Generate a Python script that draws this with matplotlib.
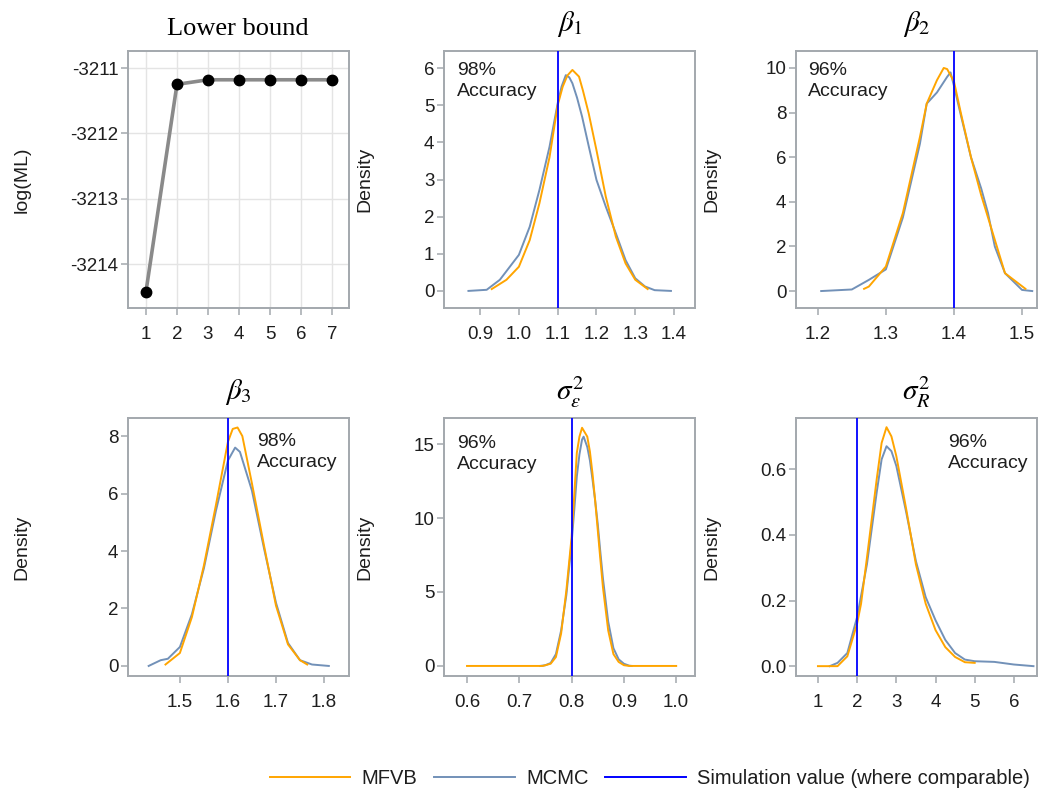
import numpy as np
import matplotlib
matplotlib.use('Agg')
import matplotlib.pyplot as plt
from matplotlib.lines import Line2D

plt.rcParams['font.family'] = ['Liberation Sans', 'DejaVu Sans']
plt.rcParams['mathtext.fontset'] = 'stix'
plt.rcParams['axes.unicode_minus'] = False

# ── data ─────────────────────────────────────────────────────────────────────
iters = [1, 2, 3, 4, 5, 6, 7]
lower_bound = [-3214.42, -3211.25, -3211.18, -3211.18, -3211.18, -3211.18, -3211.18]

b1_mcmc_x = [0.87, 0.917, 0.951, 1.0, 1.028, 1.053, 1.079, 1.1, 1.11, 1.121, 1.13, 1.138,
             1.15, 1.163, 1.18, 1.2, 1.224, 1.25, 1.275, 1.3, 1.325, 1.35, 1.392]
b1_mcmc_y = [0.0, 0.03, 0.3, 0.97, 1.73, 2.72, 3.88, 5.05, 5.5, 5.81, 5.75, 5.59,
             5.2, 4.69, 3.9, 2.99, 2.27, 1.55, 0.83, 0.34, 0.12, 0.02, 0.0]
b1_mfvb_x = [0.93, 0.968, 1.0, 1.028, 1.053, 1.079, 1.1, 1.113, 1.125, 1.138, 1.155, 1.165,
             1.18, 1.2, 1.224, 1.25, 1.275, 1.3, 1.332]
b1_mfvb_y = [0.05, 0.3, 0.65, 1.37, 2.36, 3.6, 5.0, 5.5, 5.8, 5.95, 5.77, 5.4,
             4.78, 3.79, 2.54, 1.46, 0.74, 0.3, 0.05]

b2_mcmc_x = [1.205, 1.25, 1.275, 1.3, 1.325, 1.35, 1.36, 1.375, 1.39, 1.395, 1.4, 1.41,
             1.425, 1.44, 1.45, 1.46, 1.475, 1.5, 1.515]
b2_mcmc_y = [0.0, 0.07, 0.5, 0.97, 3.3, 6.6, 8.4, 8.9, 9.6, 9.8, 9.2, 7.9,
             6.0, 4.6, 3.5, 2.0, 0.8, 0.05, 0.0]
b2_mfvb_x = [1.268, 1.275, 1.3, 1.325, 1.35, 1.36, 1.375, 1.385, 1.39, 1.4, 1.41, 1.425,
             1.44, 1.45, 1.475, 1.505]
b2_mfvb_y = [0.1, 0.2, 1.1, 3.5, 6.9, 8.4, 9.45, 10.0, 9.95, 9.4, 8.0, 6.0,
             4.3, 3.3, 0.8, 0.1]

b3_mcmc_x = [1.435, 1.46, 1.475, 1.5, 1.525, 1.55, 1.575, 1.6, 1.615, 1.625, 1.65, 1.675,
             1.7, 1.725, 1.75, 1.775, 1.81]
b3_mcmc_y = [0.0, 0.2, 0.25, 0.66, 1.8, 3.4, 5.4, 7.15, 7.6, 7.45, 6.1, 4.1,
             2.2, 0.8, 0.2, 0.05, 0.0]
b3_mfvb_x = [1.47, 1.5, 1.525, 1.55, 1.575, 1.6, 1.61, 1.62, 1.63, 1.65, 1.675, 1.7,
             1.725, 1.75, 1.765]
b3_mfvb_y = [0.05, 0.45, 1.7, 3.5, 5.6, 7.8, 8.25, 8.3, 8.0, 6.35, 4.2, 2.1,
             0.75, 0.2, 0.05]

se_mcmc_x = [0.74, 0.75, 0.76, 0.77, 0.78, 0.79, 0.8, 0.805, 0.81, 0.815, 0.82, 0.823,
             0.83, 0.835, 0.84, 0.845, 0.85, 0.855, 0.86, 0.87, 0.88, 0.89, 0.9, 0.91, 0.915]
se_mcmc_y = [0.0, 0.05, 0.2, 0.8, 2.4, 4.8, 8.3, 10.5, 12.8, 14.3, 15.3, 15.5,
             14.8, 13.9, 12.6, 11.2, 9.6, 7.7, 5.9, 3.0, 1.2, 0.45, 0.15, 0.02, 0.0]
se_mfvb_x = [0.6, 0.745, 0.76, 0.77, 0.78, 0.79, 0.8, 0.805, 0.81, 0.815, 0.82, 0.825,
             0.83, 0.835, 0.84, 0.845, 0.85, 0.855, 0.86, 0.87, 0.88, 0.89, 0.9, 0.91, 1.0]
se_mfvb_y = [0.0, 0.0, 0.15, 0.6, 2.2, 5.1, 8.7, 11.5, 14.4, 15.5, 16.1, 15.8,
             15.5, 14.5, 13.0, 11.2, 9.2, 7.2, 5.3, 2.4, 0.8, 0.27, 0.05, 0.0, 0.0]

sr_mcmc_x = [1.3, 1.5, 1.75, 2.0, 2.25, 2.5, 2.625, 2.75, 2.875, 3.0, 3.25, 3.5, 3.75,
             4.0, 4.25, 4.5, 4.75, 5.0, 5.5, 6.0, 6.5]
sr_mcmc_y = [0.0, 0.01, 0.04, 0.15, 0.31, 0.53, 0.63, 0.67, 0.655, 0.61, 0.47, 0.32, 0.21,
             0.14, 0.08, 0.04, 0.02, 0.015, 0.013, 0.005, 0.0]
sr_mfvb_x = [1.0, 1.5, 1.75, 2.0, 2.1, 2.25, 2.5, 2.625, 2.75, 2.875, 3.0, 3.25, 3.5,
             3.75, 4.0, 4.25, 4.5, 4.75, 5.0]
sr_mfvb_y = [0.0, 0.0, 0.03, 0.13, 0.19, 0.33, 0.57, 0.68, 0.728, 0.70, 0.64, 0.48, 0.31,
             0.19, 0.11, 0.058, 0.028, 0.012, 0.01]

sim_values = [1.1, 1.4, 1.6, 0.8, 2.0]
accuracy = ['98%', '96%', '98%', '96%', '96%']

# ── styling ──────────────────────────────────────────────────────────────────
C_MFVB = '#FFA500'
C_MCMC = '#7291b8'
C_SIM = '#0000ff'
SPINE = '#a3a8ad'
TXT = '#1e1e1e'

W, H = 1039, 793
fig = plt.figure(figsize=(W / 100, H / 100), dpi=100)


def box(x0, x1, y0, y1):
    return [x0 / W, 1 - y1 / H, (x1 - x0) / W, (y1 - y0) / H]


def style(ax):
    for s in ax.spines.values():
        s.set_color(SPINE)
        s.set_linewidth(1.4)
    ax.tick_params(axis='both', colors=SPINE, labelcolor=TXT, labelsize=13.5,
                   length=5, width=1.1)
    ax.tick_params(axis='y', pad=2)
    ax.tick_params(axis='x', pad=8)


cols = [(128, 349), (444, 695), (796, 1037)]
rows = [(51, 308), (418, 676)]

# ── lower bound panel ────────────────────────────────────────────────────────
ax = fig.add_axes(box(*cols[0], *rows[0]))
style(ax)
ax.grid(color='#e4e4e4', linewidth=1)
ax.set_axisbelow(True)
ax.plot(iters, lower_bound, color='#8a8a8a', linewidth=2.6, zorder=2)
ax.plot(iters, lower_bound, 'o', color='black', markersize=7.5, zorder=3)
ax.set_xlim(0.42, 7.55)
ax.set_ylim(-3214.67, -3210.74)
ax.set_xticks(iters)
ax.set_yticks([-3214, -3213, -3212, -3211])
ax.set_yticklabels(['-3214', '-3213', '-3212', '-3211'])
ax.text(-0.48, 0.5, 'log(ML)', transform=ax.transAxes, rotation=90,
        ha='center', va='center', fontsize=14, color=TXT)
fig.text(238 / W, 1 - 29 / H, 'Lower bound', ha='center', va='center',
         fontsize=19, family=['Liberation Serif', 'DejaVu Serif'])

# ── density panels ───────────────────────────────────────────────────────────
panels = [
    dict(cell=(1, 0), mc=(b1_mcmc_x, b1_mcmc_y), vb=(b1_mfvb_x, b1_mfvb_y),
         xlim=(0.807, 1.454), ylim=(-0.46, 6.46),
         xt=[0.9, 1.0, 1.1, 1.2, 1.3, 1.4], yt=[0, 1, 2, 3, 4, 5, 6],
         xf='{:.1f}', yf='{:.0f}', title=r'$\beta_1$', acc=(0.052, 0.957)),
    dict(cell=(2, 0), mc=(b2_mcmc_x, b2_mcmc_y), vb=(b2_mfvb_x, b2_mfvb_y),
         xlim=(1.168, 1.522), ylim=(-0.76, 10.76),
         xt=[1.2, 1.3, 1.4, 1.5], yt=[0, 2, 4, 6, 8, 10],
         xf='{:.1f}', yf='{:.0f}', title=r'$\beta_2$', acc=(0.05, 0.957)),
    dict(cell=(0, 1), mc=(b3_mcmc_x, b3_mcmc_y), vb=(b3_mfvb_x, b3_mfvb_y),
         xlim=(1.392, 1.852), ylim=(-0.35, 8.63),
         xt=[1.5, 1.6, 1.7, 1.8], yt=[0, 2, 4, 6, 8],
         xf='{:.1f}', yf='{:.0f}', title=r'$\beta_3$', acc=(0.584, 0.942)),
    dict(cell=(1, 1), mc=(se_mcmc_x, se_mcmc_y), vb=(se_mfvb_x, se_mfvb_y),
         xlim=(0.556, 1.036), ylim=(-0.68, 16.76),
         xt=[0.6, 0.7, 0.8, 0.9, 1.0], yt=[0, 5, 10, 15],
         xf='{:.1f}', yf='{:.0f}', title=r'$\sigma_\varepsilon^2$', acc=(0.052, 0.934)),
    dict(cell=(2, 1), mc=(sr_mcmc_x, sr_mcmc_y), vb=(sr_mfvb_x, sr_mfvb_y),
         xlim=(0.44, 6.59), ylim=(-0.03, 0.756),
         xt=[1, 2, 3, 4, 5, 6], yt=[0.0, 0.2, 0.4, 0.6],
         xf='{:.0f}', yf='{:.1f}', title=r'$\sigma_R^2$', acc=(0.631, 0.938)),
]
label_x = {0: 22, 1: 365, 2: 712}
title_y = {0: 24, 1: 392}

for i, p in enumerate(panels):
    c, r = p['cell']
    ax = fig.add_axes(box(*cols[c], *rows[r]))
    style(ax)
    ax.plot(*p['mc'], color=C_MCMC, linewidth=1.4, zorder=2)
    ax.plot(*p['vb'], color=C_MFVB, linewidth=1.4, zorder=3)
    ax.axvline(sim_values[i], color=C_SIM, linewidth=1.3, zorder=4)
    ax.set_xlim(*p['xlim'])
    ax.set_ylim(*p['ylim'])
    ax.set_xticks(p['xt'])
    ax.set_xticklabels([p['xf'].format(v) for v in p['xt']])
    ax.set_yticks(p['yt'])
    ax.set_yticklabels([p['yf'].format(v) for v in p['yt']])
    ax.text(*p['acc'], accuracy[i] + '\nAccuracy', transform=ax.transAxes,
            ha='left', va='top', fontsize=14, color=TXT, linespacing=1.3)
    x0 = cols[c][0]
    wpx = cols[c][1] - cols[c][0]
    ax.text((label_x[c] - x0) / wpx, 0.5, 'Density', transform=ax.transAxes,
            rotation=90, ha='center', va='center', fontsize=14, color=TXT)
    cx = (cols[c][0] + cols[c][1]) / 2
    fig.text(cx / W, 1 - title_y[r] / H, p['title'], ha='center', va='center',
             fontsize=21)

# ── legend ───────────────────────────────────────────────────────────────────
handles = [
    Line2D([], [], color=C_MFVB, linewidth=1.4, label='MFVB'),
    Line2D([], [], color=C_MCMC, linewidth=1.4, label='MCMC'),
    Line2D([], [], color=C_SIM, linewidth=1.4, label='Simulation value (where comparable)'),
]
fig.legend(handles=handles, loc='center right', bbox_to_anchor=(1030 / W, 1 - 779 / H),
           ncol=3, frameon=False, fontsize=14.5, handlelength=4.0, handletextpad=0.55,
           columnspacing=0.85, borderpad=0, borderaxespad=0, labelcolor=TXT)

fig.savefig('out.png', dpi=100)
